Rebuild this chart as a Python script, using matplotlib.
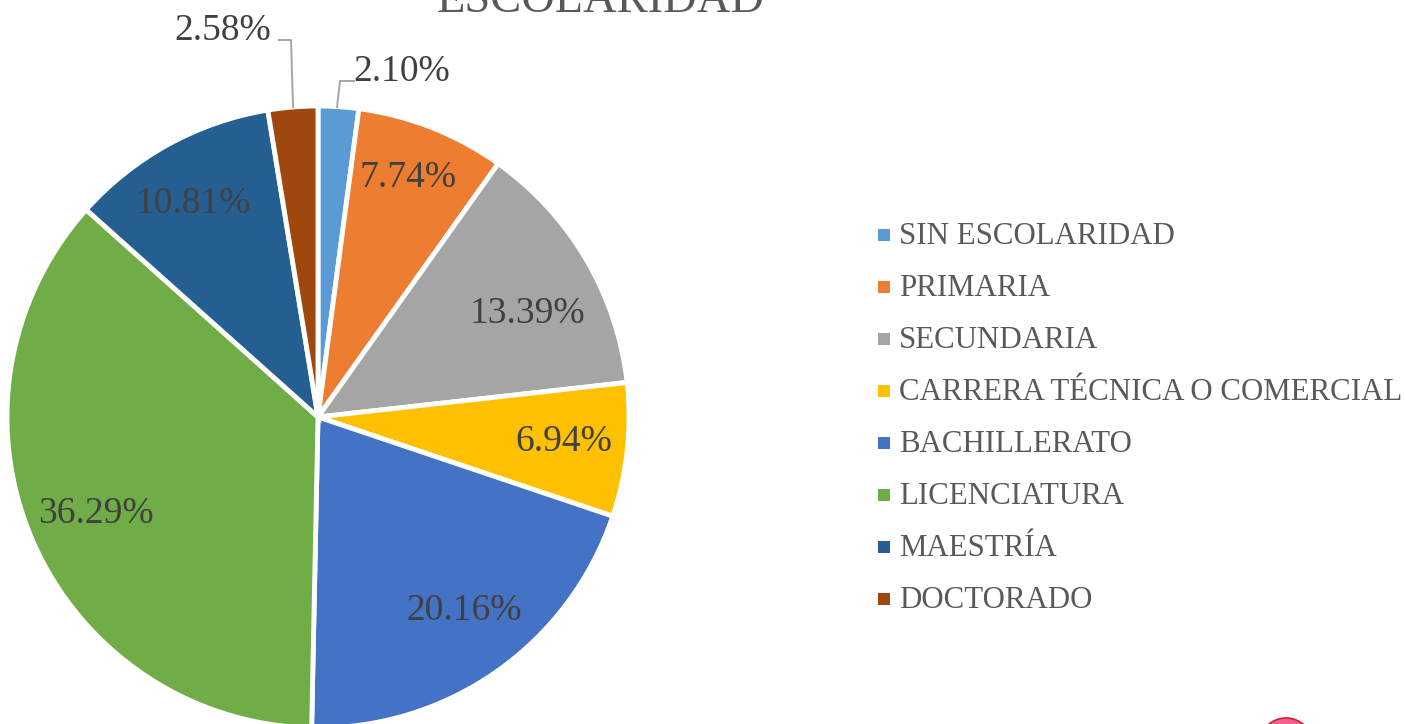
"""Pie chart of schooling levels (ESCOLARIDAD)."""

import matplotlib

matplotlib.use("Agg")
import matplotlib.pyplot as plt
from matplotlib.patches import Circle, Rectangle

plt.rcParams["font.family"] = ["Liberation Serif", "DejaVu Serif"]

categories = [
    "SIN ESCOLARIDAD",
    "PRIMARIA",
    "SECUNDARIA",
    "CARRERA TÉCNICA O COMERCIAL",
    "BACHILLERATO",
    "LICENCIATURA",
    "MAESTRÍA",
    "DOCTORADO",
]
values = [2.10, 7.74, 13.39, 6.94, 20.16, 36.29, 10.81, 2.58]
labels = ["2.10%", "7.74%", "13.39%", "6.94%", "20.16%", "36.29%", "10.81%", "2.58%"]
colors = ["#5B9BD5", "#ED7D31", "#A5A5A5", "#FFC000", "#4472C4", "#70AD47", "#255E91", "#9E480E"]
label_xy = [(402, 72), (408, 178), (528, 314), (564, 442), (464, 611), (96, 514), (193, 204), (223, 31)]
legend_y = [236, 288, 340, 392, 444, 496, 548, 600]

W, H = 1406, 724
TEXT = "#404040"

fig = plt.figure(figsize=(W / 100, H / 100), dpi=100)
ax = fig.add_axes([0, 0, 1, 1])

# y axis is flipped, so counterclock=True here runs clockwise on screen
ax.pie(
    values,
    colors=colors,
    center=(318, 417),
    radius=311,
    startangle=-90,
    counterclock=True,
    frame=True,
    wedgeprops={"edgecolor": "white", "linewidth": 3.5},
)
ax.set_xlim(0, W)
ax.set_ylim(H, 0)
ax.set_aspect("auto")
ax.axis("off")

for text, (x, y) in zip(labels, label_xy):
    ax.text(x, y, text, fontsize=27, color=TEXT, ha="center", va="center")

# the title is cut by the top edge in the reference too
ax.text(601, 1, "ESCOLARIDAD", fontsize=33.5, color="#595959", ha="center", va="center")

# leader lines for the two small slices
ax.plot([354, 340, 337], [81, 81, 107], color="#A6A6A6", lw=1.4)
ax.plot([279, 291, 293], [40, 40, 107], color="#A6A6A6", lw=1.4)

for name, color, y in zip(categories, colors, legend_y):
    ax.add_patch(Rectangle((878, y - 7), 12, 12, color=color, lw=0))
    ax.text(899, y, name, fontsize=22.2, color="#595959", ha="left", va="center")

# stray pink badge cut off by the bottom edge
ax.add_patch(Circle((1286, 745), 27, facecolor="#F5608F", edgecolor="#D0203C", lw=1.2))

fig.savefig("out.png", dpi=100)
